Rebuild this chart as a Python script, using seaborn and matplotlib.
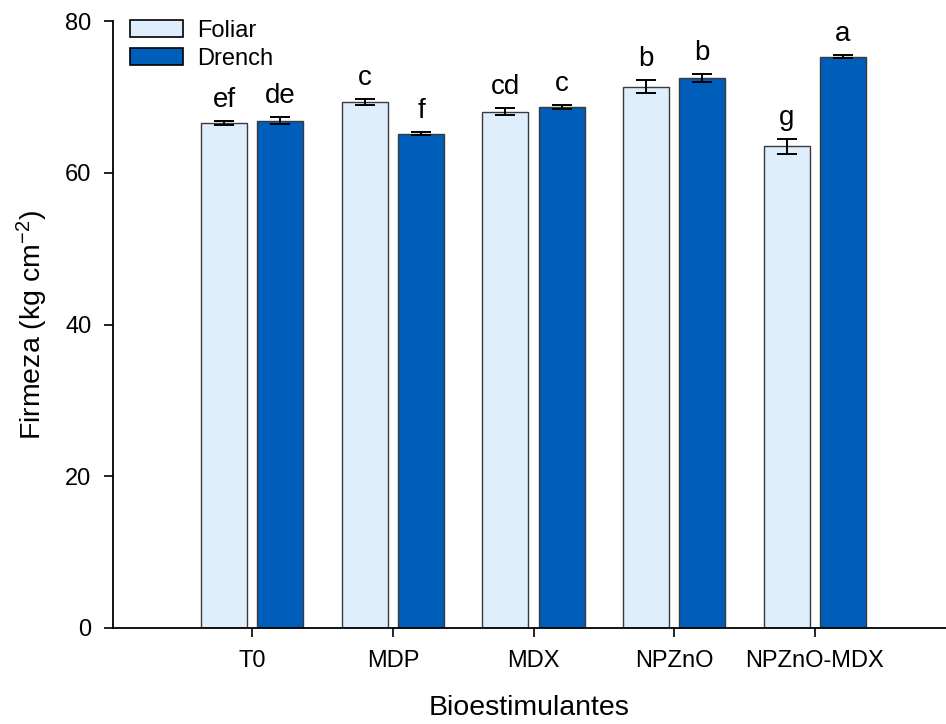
"""
Firmeza por bioestimulante y forma de aplicación
"""
import numpy as np
import pandas as pd
import matplotlib
matplotlib.use('Agg')
import matplotlib.pyplot as plt
import seaborn as sns

# Data
categorias = ['T0', 'MDP', 'MDX', 'NPZnO', 'NPZnO-MDX']
foliar = [66.6, 69.3, 68.1, 71.4, 63.5]
drench = [66.9, 65.2, 68.7, 72.5, 75.3]
foliar_err = [0.25, 0.4, 0.45, 0.8, 0.95]
drench_err = [0.5, 0.2, 0.2, 0.5, 0.2]
foliar_letras = ['ef', 'c', 'cd', 'b', 'g']
drench_letras = ['de', 'f', 'c', 'b', 'a']

sns.set_style('white')
plt.rcParams['font.family'] = ['Liberation Sans', 'DejaVu Sans']
plt.rcParams['mathtext.fontset'] = 'custom'
plt.rcParams['mathtext.rm'] = 'Liberation Sans'
plt.rcParams['mathtext.it'] = 'Liberation Sans:italic'
plt.rcParams['text.color'] = 'black'
plt.rcParams['axes.labelcolor'] = 'black'
plt.rcParams['xtick.color'] = 'black'
plt.rcParams['ytick.color'] = 'black'

df = pd.DataFrame({
    'Bioestimulantes': categorias * 2,
    'Firmeza': foliar + drench,
    'Aplicacion': ['Foliar'] * 5 + ['Drench'] * 5,
})

colores = {'Foliar': '#deeefc', 'Drench': '#005ebb'}

fig = plt.figure(figsize=(9.46, 7.24), dpi=100)
ax = fig.add_axes([0.1195, 0.1326, 0.88, 0.838])

sns.barplot(data=df, x='Bioestimulantes', y='Firmeza', hue='Aplicacion',
            palette=colores, saturation=1, width=0.8, gap=0.185,
            edgecolor='#3a3a3a', linewidth=1.0, errorbar=None, ax=ax,
            legend=False)

errores = [foliar_err, drench_err]
letras = [foliar_letras, drench_letras]
barras = list(ax.containers)[:2]
for k, cont in enumerate(barras):
    xs = [p.get_x() + p.get_width() / 2 for p in cont]
    hs = [p.get_height() for p in cont]
    ax.errorbar(xs, hs, yerr=errores[k], fmt='none', ecolor='black',
                elinewidth=1.4, capsize=7, capthick=1.4, zorder=5)
    for x, h, e, t in zip(xs, hs, errores[k], letras[k]):
        ax.text(x, h + e + 1.1, t, ha='center', va='bottom', fontsize=20)

ax.set_xlim(-0.99, 4.93)
ax.set_ylim(0, 80)
ax.set_yticks([0, 20, 40, 60, 80])
ax.tick_params(axis='both', direction='out', length=6.5, width=1.2,
               labelsize=17, bottom=True, left=True)
ax.tick_params(axis='x', pad=9)
ax.tick_params(axis='y', pad=9)
sns.despine(ax=ax)
for s in ['left', 'bottom']:
    ax.spines[s].set_linewidth(1.3)
    ax.spines[s].set_color('black')

ax.set_xlabel('Bioestimulantes', fontsize=20.5, labelpad=17)
ax.set_ylabel('Firmeza (kg cm$^{-2}$)', fontsize=20.5, labelpad=11)

# Legend
handles = [plt.Rectangle((0, 0), 1, 1, facecolor=colores[a], edgecolor='black',
                         linewidth=1.2) for a in ['Foliar', 'Drench']]
ax.legend(handles, ['Foliar', 'Drench'], loc='upper left',
          bbox_to_anchor=(0.009, 1.018), frameon=False, fontsize=17,
          handlelength=2.25, handleheight=0.75, labelspacing=0.25,
          handletextpad=0.6, borderaxespad=0)

plt.savefig('out.png', dpi=100)
